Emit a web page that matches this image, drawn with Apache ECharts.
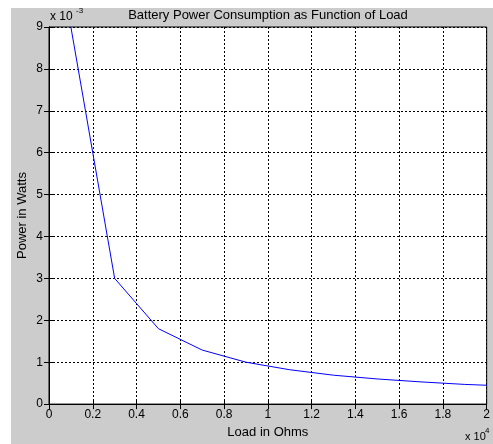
<!DOCTYPE html>
<html>
<head>
<meta charset="utf-8">
<script src="https://cdn.jsdelivr.net/npm/echarts@6/dist/echarts.min.js"></script>
<style>
  html, body { margin: 0; padding: 0; background: #fff; }
  #main { width: 493px; height: 444px; }
</style>
</head>
<body>
<div id="main"></div>
<script>
// load in units of 10^4 ohms, power in units of 10^-3 watts
var loadE4 = [0.1, 0.3, 0.5, 0.7, 0.9, 1.1, 1.3, 1.5, 1.7, 1.9, 2.0];
var powerEm3 = [9.0, 3.0, 1.8, 1.29, 1.0, 0.82, 0.69, 0.6, 0.53, 0.47, 0.45];
var xTicks = [0, 0.2, 0.4, 0.6, 0.8, 1, 1.2, 1.4, 1.6, 1.8, 2];
var yTicks = [0, 1, 2, 3, 4, 5, 6, 7, 8, 9];

var font = 'Liberation Sans, Arial, sans-serif';
var pts = [];
for (var i = 0; i < loadE4.length; i++) pts.push([loadE4[i], powerEm3[i]]);

var chart = echarts.init(document.getElementById('main'));
var gridLine = { show: true, lineStyle: { color: '#000', type: [2, 2], width: 1 } };
var tick = { show: true, inside: true, length: 5, lineStyle: { color: '#000' } };

var option = {
    backgroundColor: '#fff',
    animation: false,
    graphic: [
        { type: 'rect', z: -10, shape: { x: 11, y: 8, width: 482, height: 436 }, style: { fill: '#cccccc' } },
        { type: 'text', left: 50, top: 11, style: { text: 'x 10', font: '12px ' + font, fill: '#000' } },
        { type: 'text', left: 76, top: 7, style: { text: '-3', font: '8px ' + font, fill: '#000' } },
        { type: 'text', left: 465, top: 431, style: { text: 'x 10', font: '11px ' + font, fill: '#000' } },
        { type: 'text', left: 485, top: 427, style: { text: '4', font: '8px ' + font, fill: '#000' } }
    ],
    title: {
        text: 'Battery Power Consumption as Function of Load',
        left: 268, top: 9, textAlign: 'center', padding: 0,
        textStyle: { fontFamily: font, fontSize: 13, fontWeight: 'normal', color: '#000' }
    },
    grid: {
        left: 49, top: 27, right: 5, bottom: 37,
        show: true, backgroundColor: '#fff', borderColor: '#000', borderWidth: 1
    },
    xAxis: [{
        type: 'value', min: 0, max: 2, interval: 0.2,
        name: 'Load in Ohms', nameLocation: 'middle', nameGap: 12,
        nameTextStyle: { fontFamily: font, fontSize: 13, color: '#000' },
        axisLine: { show: true, lineStyle: { color: '#000' } },
        axisTick: tick, splitLine: gridLine,
        axisLabel: { fontFamily: font, fontSize: 12, color: '#000', margin: 5,
            formatter: function (v) { return String(xTicks[Math.round(v * 5)]); } }
    }, {
        type: 'value', min: 0, max: 2, interval: 0.2, position: 'top',
        axisLine: { show: true, lineStyle: { color: '#000' } },
        axisTick: tick, axisLabel: { show: false }, splitLine: { show: false }
    }],
    yAxis: [{
        type: 'value', min: 0, max: 9, interval: 1,
        name: 'Power in Watts', nameLocation: 'middle', nameGap: 20,
        nameMoveOverlap: false,
        nameTextStyle: { fontFamily: font, fontSize: 13, color: '#000' },
        axisLine: { show: true, lineStyle: { color: '#000' } },
        axisTick: tick, splitLine: gridLine,
        axisLabel: { fontFamily: font, fontSize: 12, color: '#000', margin: 6,
            formatter: function (v) { return String(yTicks[Math.round(v)]); } }
    }, {
        type: 'value', min: 0, max: 9, interval: 1, position: 'right',
        axisLine: { show: true, lineStyle: { color: '#000' } },
        axisTick: tick, axisLabel: { show: false }, splitLine: { show: false }
    }],
    series: [{
        type: 'line', data: pts, xAxisIndex: 0, yAxisIndex: 0,
        symbol: 'none', clip: true,
        lineStyle: { color: '#0000ff', width: 1 }
    }]
};
chart.setOption(option);
</script>
</body>
</html>
